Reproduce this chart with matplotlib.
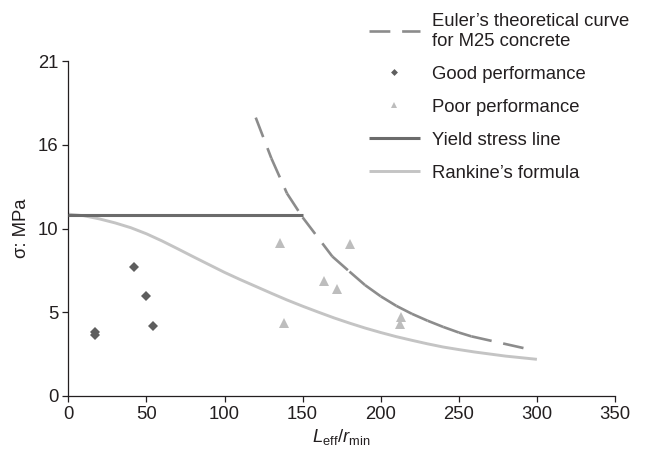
import matplotlib
matplotlib.use("Agg")
import matplotlib.pyplot as plt
from matplotlib.lines import Line2D

plt.rcParams['font.family'] = ['Liberation Sans', 'DejaVu Sans']
plt.rcParams['mathtext.fontset'] = 'custom'
plt.rcParams['mathtext.rm'] = 'Liberation Sans'
plt.rcParams['mathtext.it'] = 'Liberation Sans:italic'
plt.rcParams['lines.scale_dashes'] = False

# ---- data ----
good_x = [17.1, 17.1, 42.3, 49.8, 54.5]
good_y = [4.03, 3.82, 8.07, 6.29, 4.41]

poor_x = [135.5, 138.3, 163.7, 172.2, 180.3, 213.0, 212.4]
poor_y = [9.57, 4.60, 7.23, 6.69, 9.51, 4.93, 4.49]

yield_x = [0, 150]
yield_y = [11.35, 11.35]

euler_x = [120, 130, 140, 150, 169, 180, 190, 200, 210, 220, 230, 240, 250, 258, 293]
euler_y = [17.45, 14.9, 12.7, 11.2, 8.75, 7.8, 6.95, 6.25, 5.65, 5.15, 4.72, 4.33, 3.98, 3.74, 2.97]

rank_x = [0, 10, 20, 30, 40, 50, 60, 70, 80, 90, 100, 110, 120, 130, 140, 150,
          160, 170, 180, 190, 200, 210, 220, 230, 240, 250, 260, 270, 280, 290, 300]
rank_y = [11.4, 11.3, 11.1, 10.85, 10.55, 10.17, 9.72, 9.23, 8.73, 8.24, 7.75, 7.3,
          6.87, 6.44, 6.02, 5.63, 5.26, 4.9, 4.57, 4.26, 3.98, 3.72, 3.49, 3.27,
          3.07, 2.91, 2.76, 2.63, 2.5, 2.4, 2.3]

x_ticks = [0, 50, 100, 150, 200, 250, 300, 350]
y_ticks = [0, 5.25, 10.5, 15.75, 21]
y_tick_labels = ['0', '5', '10', '16', '21']

labels = ['Euler\u2019s theoretical curve\nfor M25 concrete', 'Good performance',
          'Poor performance', 'Yield stress line', 'Rankine\u2019s formula']

c_euler = '#8c8c8c'
c_good = '#5e5e5e'
c_poor = '#bdbdbd'
c_yield = '#6b6b6b'
c_rank = '#c4c4c4'
txt = '#231f20'
dash = (0, (15, 8.5))

fig = plt.figure(figsize=(6.45, 4.55), dpi=100)
ax = fig.add_axes([68.3/645, 1-396/455, (615-68.3)/645, (396-61)/455])

ax.plot(rank_x, rank_y, color=c_rank, lw=2.1, solid_capstyle='butt', zorder=2)
ax.plot(yield_x, yield_y, color=c_yield, lw=2.2, solid_capstyle='butt', zorder=3)
for i in range(len(euler_x) - 1):
    ax.plot(euler_x[i:i+2], euler_y[i:i+2], color=c_euler, lw=1.9,
            linestyle=dash, dash_capstyle='butt', zorder=3)
ax.plot(good_x, good_y, 'D', color=c_good, ms=5.4, mew=0, zorder=4)
ax.plot(poor_x, poor_y, '^', color=c_poor, ms=7, mew=0, zorder=4)

ax.set_xlim(0, 350)
ax.set_ylim(0, 21)
ax.set_xticks(x_ticks)
ax.set_yticks(y_ticks)
ax.set_yticklabels(y_tick_labels)
for s in ['top', 'right']:
    ax.spines[s].set_visible(False)
for s in ['left', 'bottom']:
    ax.spines[s].set_color(txt)
    ax.spines[s].set_linewidth(0.9)
ax.tick_params(direction='out', length=4, width=0.9, colors=txt,
               labelsize=13.3, pad=3)
ax.set_xlabel(r'$L_{\mathrm{eff}}/r_{\mathrm{min}}$', fontsize=13.3, color=txt, labelpad=3)
ax.set_ylabel('\u03c3: MPa', fontsize=13.3, color=txt, labelpad=6)

handles = [
    Line2D([], [], color=c_euler, lw=1.9, linestyle=dash, dash_capstyle='butt'),
    Line2D([], [], linestyle='none', marker='D', color=c_good, ms=3.5, mew=0),
    Line2D([], [], linestyle='none', marker='^', color=c_poor, ms=5, mew=0),
    Line2D([], [], color=c_yield, lw=2.2, solid_capstyle='butt'),
    Line2D([], [], color=c_rank, lw=2.1, solid_capstyle='butt'),
]
fig.legend(handles, labels, loc='upper left', bbox_to_anchor=(369/645, 1-13/455),
           frameon=False, fontsize=13.3, handlelength=2.76, handletextpad=0.63,
           labelspacing=0.87, borderaxespad=0, borderpad=0, labelcolor=txt)

fig.savefig('out.png', dpi=100)
